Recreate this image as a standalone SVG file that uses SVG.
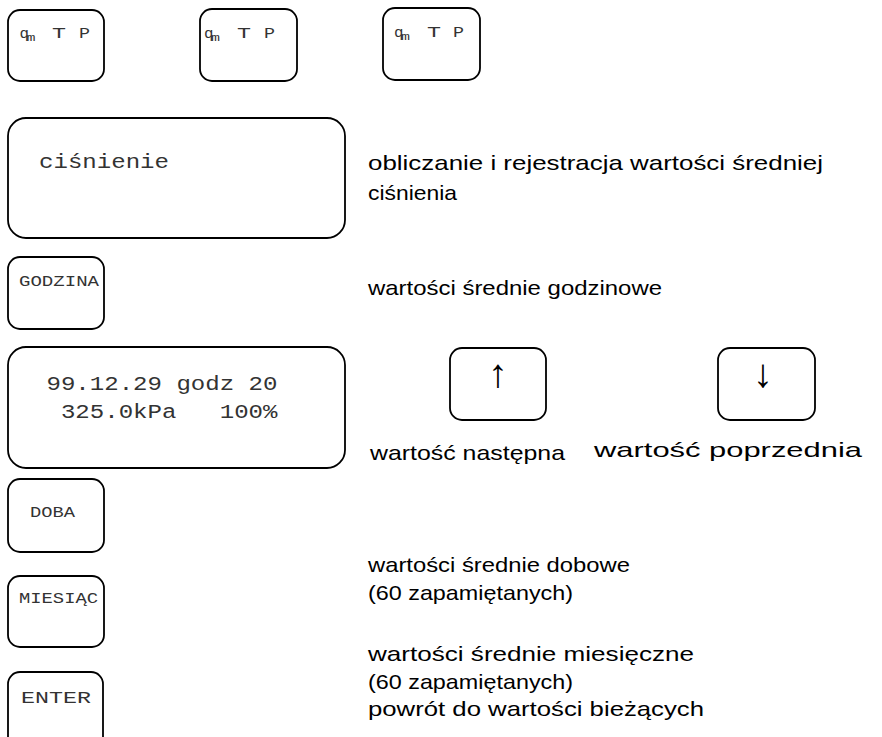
<svg xmlns="http://www.w3.org/2000/svg" width="882" height="737" viewBox="0 0 882 737">
<style>
.box{fill:#fff;stroke:#000;stroke-width:1.8}
.mono{font-family:"Liberation Mono","Courier New",monospace;fill:#333;white-space:pre}
.sans{font-family:"Liberation Sans",Arial,sans-serif;font-size:21px;fill:#000}
.key{font-size:14.5px}
.lcd{font-size:20.5px}
.sym{font-size:14px}
.sub{font-size:10px}
.arr{font-family:"Liberation Sans",Arial,sans-serif;font-size:40px;fill:#000;text-anchor:middle}
</style>
<rect width="882" height="737" fill="#fff"/>
<g id="key-qtp-1">
<rect class="box" x="8" y="10" width="96" height="71" rx="12"/>
<text class="mono sym" x="19.5" y="38" textLength="9.5" lengthAdjust="spacingAndGlyphs">q</text><text class="mono sub" x="26.5" y="41" textLength="9" lengthAdjust="spacingAndGlyphs">m</text><text class="mono sym" x="52" y="38" textLength="14" lengthAdjust="spacingAndGlyphs">T</text><text class="mono sym" x="79" y="38" textLength="11" lengthAdjust="spacingAndGlyphs">P</text>
</g>
<g id="key-qtp-2">
<rect class="box" x="200" y="9" width="97" height="72" rx="12"/>
<text class="mono sym" x="204" y="38" textLength="9.5" lengthAdjust="spacingAndGlyphs">q</text><text class="mono sub" x="211" y="41" textLength="9" lengthAdjust="spacingAndGlyphs">m</text><text class="mono sym" x="237" y="38" textLength="14" lengthAdjust="spacingAndGlyphs">T</text><text class="mono sym" x="264" y="38" textLength="11" lengthAdjust="spacingAndGlyphs">P</text>
</g>
<g id="key-qtp-3">
<rect class="box" x="383" y="8" width="97" height="72" rx="12"/>
<text class="mono sym" x="394" y="37" textLength="9.5" lengthAdjust="spacingAndGlyphs">q</text><text class="mono sub" x="401" y="40" textLength="9" lengthAdjust="spacingAndGlyphs">m</text><text class="mono sym" x="427" y="37" textLength="14" lengthAdjust="spacingAndGlyphs">T</text><text class="mono sym" x="453" y="37" textLength="11" lengthAdjust="spacingAndGlyphs">P</text>
</g>
<g id="display-cisnienie">
<rect class="box" x="8" y="118" width="337" height="120" rx="18"/>
<text class="mono lcd" x="39" y="168" textLength="130" lengthAdjust="spacingAndGlyphs">ciśnienie</text>
</g>
<g id="desc-cisnienie">
<text class="sans" x="368" y="170" textLength="455" lengthAdjust="spacingAndGlyphs">obliczanie i rejestracja wartości średniej</text>
<text class="sans" x="368" y="200" textLength="89" lengthAdjust="spacingAndGlyphs">ciśnienia</text>
</g>
<g id="key-godzina">
<rect class="box" x="8" y="257" width="96" height="72" rx="12"/>
<text class="mono key" x="19" y="286" textLength="80" lengthAdjust="spacingAndGlyphs">GODZINA</text>
</g>
<text id="desc-godzina" class="sans" x="368" y="295" textLength="294" lengthAdjust="spacingAndGlyphs">wartości średnie godzinowe</text>
<g id="display-value">
<rect class="box" x="8" y="347" width="337" height="121" rx="18"/>
<text class="mono lcd" x="46.5" y="390" textLength="231" lengthAdjust="spacingAndGlyphs">99.12.29 godz 20</text>
<text class="mono lcd" x="46.5" y="418" textLength="231" lengthAdjust="spacingAndGlyphs"> 325.0kPa   100%</text>
</g>
<g id="key-up">
<rect class="box" x="450" y="348" width="96" height="72" rx="12"/>
<text class="arr" x="498" y="387">↑</text>
</g>
<text id="desc-up" class="sans" x="370" y="460" textLength="195" lengthAdjust="spacingAndGlyphs">wartość następna</text>
<g id="key-down">
<rect class="box" x="718" y="348" width="97" height="72" rx="12"/>
<text class="arr" x="763" y="387">↓</text>
</g>
<text id="desc-down" class="sans" x="594" y="457" textLength="268" lengthAdjust="spacingAndGlyphs">wartość poprzednia</text>
<g id="key-doba">
<rect class="box" x="8" y="479" width="96" height="73" rx="12"/>
<text class="mono key" x="30" y="517" textLength="45" lengthAdjust="spacingAndGlyphs">DOBA</text>
</g>
<g id="desc-doba">
<text class="sans" x="368" y="572" textLength="262" lengthAdjust="spacingAndGlyphs">wartości średnie dobowe</text>
<text class="sans" x="368" y="600" textLength="205" lengthAdjust="spacingAndGlyphs">(60 zapamiętanych)</text>
</g>
<g id="key-miesiac">
<rect class="box" x="8" y="576" width="96" height="71" rx="12"/>
<text class="mono key" x="19" y="603" textLength="79" lengthAdjust="spacingAndGlyphs">MIESIĄC</text>
</g>
<g id="desc-miesiac">
<text class="sans" x="368" y="661" textLength="326" lengthAdjust="spacingAndGlyphs">wartości średnie miesięczne</text>
<text class="sans" x="368" y="689" textLength="205" lengthAdjust="spacingAndGlyphs">(60 zapamiętanych)</text>
</g>
<g id="key-enter">
<rect class="box" x="8" y="672" width="95" height="80" rx="12"/>
<text class="mono key" x="21" y="703" style="font-size:17px" textLength="70" lengthAdjust="spacingAndGlyphs">ENTER</text>
</g>
<text id="desc-enter" class="sans" x="368" y="716" textLength="336" lengthAdjust="spacingAndGlyphs">powrót do wartości bieżących</text>
<g id="connectors"/>
</svg>
